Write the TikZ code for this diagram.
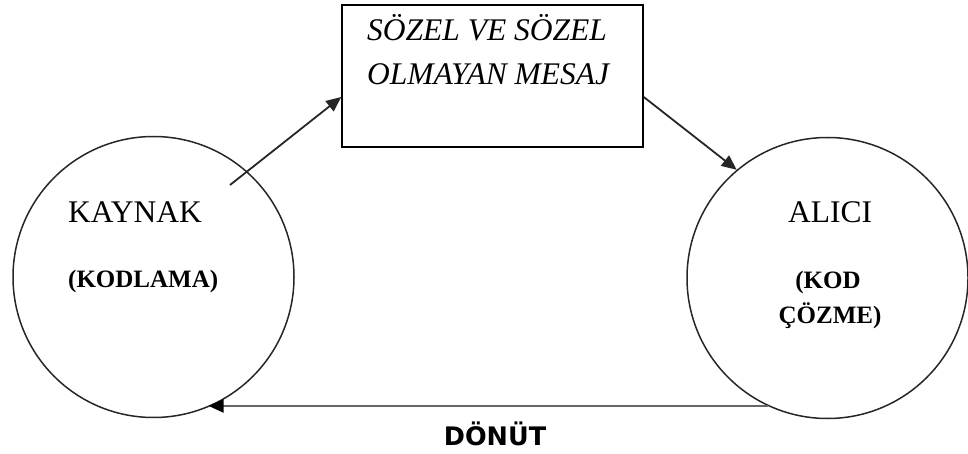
\documentclass[tikz,border=0pt]{standalone}
\usepackage{fontspec}
\setmainfont{Liberation Serif}
\newfontfamily\labelfont{DejaVu Sans}
\usetikzlibrary{arrows.meta}
\tikzset{
  party/.style={circle, draw=black!85, line width=1.5pt, minimum size=281pt, inner sep=0pt},
  msgbox/.style={rectangle, draw=black, line width=1.5pt, minimum width=301pt, minimum height=142pt, inner sep=0pt},
  arr/.style={line width=1.8pt, draw=black!85, -{Triangle[length=15pt,width=13pt]}},
  fb/.style={line width=2.2pt, draw=black!60, -{Triangle[length=15pt,width=13pt,color=black]}},
  big/.style={font=\fontsize{31.5}{38}\selectfont, inner sep=0pt},
  bigit/.style={font=\fontsize{31.5}{38}\selectfont\itshape, inner sep=0pt},
  small/.style={font=\fontsize{25}{30}\selectfont\bfseries, inner sep=0pt},
  fblabel/.style={font=\fontsize{25.5}{30}\selectfont\labelfont\bfseries, inner sep=0pt}
}
\begin{document}
\begin{tikzpicture}[x=1pt,y=-1pt]
\useasboundingbox (0,0) rectangle (968,454);
\node[party] (src) at (153.5,277) {};
\node[party] (rcv) at (827.5,278) {};
\node[msgbox] (msg) at (492.5,76) {};
% texts
\node[bigit, anchor=base west] (m1) at (367,41) {SÖZEL VE SÖZEL};
\node[bigit, anchor=base west] (m2) at (367,85) {OLMAYAN MESAJ};
\node[big, anchor=base west] (k1) at (68,223) {KAYNAK};
\node[small, anchor=base west] (k2) at (68,287) {(KODLAMA)};
\node[big, anchor=base] (a1) at (830,223) {ALICI};
\node[small, anchor=base] (a2) at (828,288) {(KOD};
\node[small, anchor=base] (a3) at (830,323) {ÇÖZME)};
\node[fblabel, anchor=base] (d) at (495,445) {DÖNÜT};
% connectors
\coordinate (s1) at (230,185);
\draw[arr] (s1) -- ([yshift=-21pt]msg.west);
\draw[arr] ([yshift=-21pt]msg.east) -- (rcv.130);
\draw[fb] (rcv.245) -- (src.293 |- rcv.245);
\end{tikzpicture}
\end{document}
